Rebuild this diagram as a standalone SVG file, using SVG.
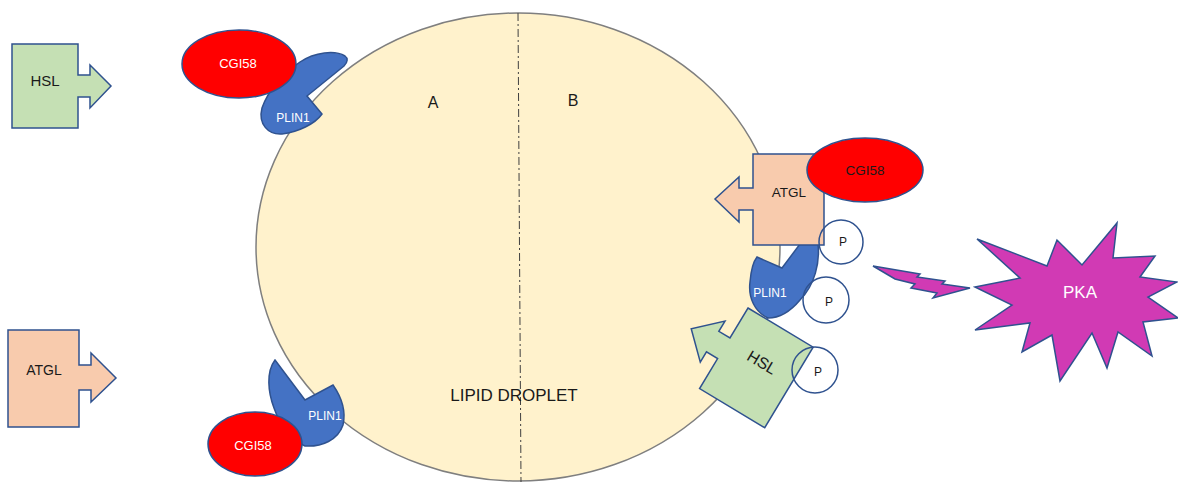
<svg xmlns="http://www.w3.org/2000/svg" width="1178" height="482" viewBox="0 0 1178 482">
<style>
  text { font-family: "Liberation Sans", Arial, sans-serif; }
  .shape { stroke: #2f528f; stroke-width: 1.5; stroke-linejoin: miter; }
  .hsl { fill: #c5e0b4; }
  .atgl { fill: #f8cbad; }
  .cgi { fill: #ff0000; }
  .plin { fill: #4472c4; }
  .p { fill: none; stroke: #2f528f; stroke-width: 1.5; }
  .lbl { fill: #1a1a1a; text-anchor: middle; }
  .wlbl { fill: #ffffff; text-anchor: middle; }
</style>
<rect width="1178" height="482" fill="#ffffff"/>

<g id="droplet">
  <ellipse cx="518" cy="247" rx="262" ry="234" fill="#fff2cc" stroke="#7f7f7f" stroke-width="1.5"/>
  <line x1="518" y1="13" x2="521" y2="482" stroke="#404040" stroke-width="1" stroke-dasharray="8,3,2,3"/>
  <text class="lbl" x="433" y="108" font-size="16">A</text>
  <text class="lbl" x="573" y="106" font-size="16">B</text>
  <text class="lbl" x="514" y="401" font-size="17">LIPID DROPLET</text>
</g>

<g id="hsl-left">
  <path class="shape hsl" d="M12,44 H78 V75 H90 V65 L111,86 L90,108 V97 H78 V128 H12 Z"/>
  <text class="lbl" x="45" y="86" font-size="15">HSL</text>
</g>

<g id="atgl-left">
  <path class="shape atgl" d="M8,330 H79 V365 H91 V353 L116,378 L91,402 V390 H79 V427 H8 Z"/>
  <text class="lbl" x="44" y="375" font-size="14">ATGL</text>
</g>

<g id="plin1-top">
  <path class="shape plin" d="M345,56 C335,50 315,52 300,62 C285,72 268,90 262,108 C258,124 268,135 282,134 C298,132 315,124 322,114 L307,96 L344,66 C348,62 348,58 345,56 Z"/>
  <text class="wlbl" x="293" y="122" font-size="12">PLIN1</text>
</g>

<g id="cgi58-top">
  <ellipse class="shape cgi" cx="239" cy="64" rx="57" ry="34"/>
  <text class="wlbl" x="238" y="68" font-size="13">CGI58</text>
</g>

<g id="plin1-bottom">
  <path class="shape plin" d="M275,360 L305,400 L333,385 C342,398 346,412 343,425 C338,440 322,447 305,446 C290,440 280,425 274,408 C268,392 266,372 275,360 Z"/>
  <text class="wlbl" x="325" y="420" font-size="12">PLIN1</text>
</g>

<g id="cgi58-bottom">
  <ellipse class="shape cgi" cx="255" cy="444" rx="47" ry="32"/>
  <text class="wlbl" x="253" y="450" font-size="13">CGI58</text>
</g>

<g id="plin1-right">
  <path class="shape plin" d="M757,257 L782,268 L800,244 L818,244 C820,262 815,285 800,300 C790,312 778,318 768,318 C755,312 748,298 750,282 C751,270 753,262 757,257 Z"/>
  <text class="wlbl" x="770" y="297" font-size="12">PLIN1</text>
</g>

<g id="atgl-right">
  <path class="shape atgl" d="M753,154 H824 V245 H753 V210 H739 V222 L715,199 L739,177 V188 H753 Z"/>
  <text class="lbl" x="789" y="197" font-size="13.5">ATGL</text>
</g>

<g id="cgi58-right">
  <ellipse class="shape cgi" cx="865" cy="170" rx="58" ry="32"/>
  <text class="lbl" x="865" y="175" font-size="13.5">CGI58</text>
</g>

<g id="hsl-right">
  <g transform="translate(748,308) rotate(31)">
    <path class="shape hsl" d="M0,0 L76,0 L76,94 L0,94 L0,59 L-13,59 L-13,71 L-38,47 L-13,23 L-13,35 L0,35 Z"/>
    <text class="lbl" x="40" y="45" font-size="16">HSL</text>
  </g>
</g>

<g id="p1">
  <circle class="p" cx="841" cy="242" r="22"/>
  <text class="lbl" x="843" y="246" font-size="12">P</text>
</g>
<g id="p2">
  <circle class="p" cx="826" cy="300" r="23"/>
  <text class="lbl" x="829" y="306" font-size="12">P</text>
</g>
<g id="p3">
  <circle class="p" cx="815" cy="370" r="23"/>
  <text class="lbl" x="818" y="376" font-size="12">P</text>
</g>

<g id="connectors">
  <path class="shape" fill="#d13ab4" d="M873,266 L920,274 L917,277 L945,281 L942,284 L970,288 L933,298 L937,293 L911,288 L915,284 L895,279 Z"/>
</g>

<g id="pka">
  <path class="shape" fill="#d13ab4" d="M975,287 L1020,278 L977,239 L1047,266 L1057,240 L1082,265 L1117,223 L1113,258 L1155,256 L1140,277 L1177,282 L1148,297 L1178,318 L1143,322 L1152,356 L1118,332 L1107,368 L1092,333 L1060,381 L1052,335 L1022,352 L1030,323 L975,330 L1012,305 Z"/>
  <text class="wlbl" x="1080" y="298" font-size="17">PKA</text>
</g>
</svg>
